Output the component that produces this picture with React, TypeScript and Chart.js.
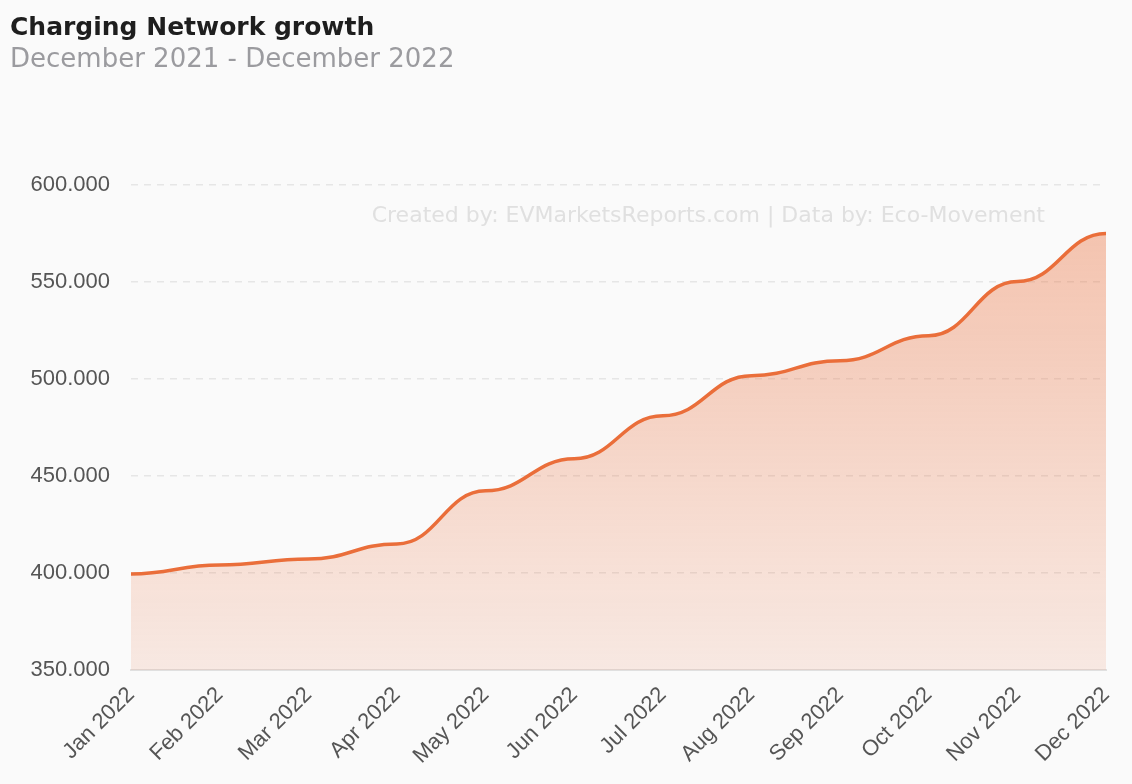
import React, { useEffect, useRef } from "react";
import { Chart, registerables } from "chart.js";

Chart.register(...registerables);

const months = ["Jan 2022", "Feb 2022", "Mar 2022", "Apr 2022", "May 2022", "Jun 2022", "Jul 2022", "Aug 2022", "Sep 2022", "Oct 2022", "Nov 2022", "Dec 2022"];
const chargePoints = [399500, 404100, 407200, 415000, 442400, 458900, 481100, 501800, 509500, 522400, 550300, 575100];
const yMin = 350000;
const yMax = 600000;
const yStep = 50000;
const titleText = "Charging Network growth";
const subtitleText = "December 2021 - December 2022";
const watermarkText = "Created by: EVMarketsReports.com | Data by: Eco-Movement";

const HEAD_FONT = "'DejaVu Sans', sans-serif";
const TICK_FONT = "'Liberation Sans', Arial, sans-serif";

function flattenControlPoints(chart: any) {
  const area = chart.chartArea;
  if (!area) return;
  chart.getSortedVisibleDatasetMetas().forEach((meta: any) => {
    const line = meta.dataset;
    const pts = meta.data;
    if (!line || !pts || !pts.length) return;
    line.updateControlPoints(area, "x");
    for (let i = 0; i < pts.length; i++) {
      const p = pts[i];
      const prev = pts[i - 1];
      const next = pts[i + 1];
      const dPrev = prev ? (p.x - prev.x) * 0.45 : 0;
      const dNext = next ? (next.x - p.x) * 0.45 : 0;
      p.cp1x = p.x - dPrev;
      p.cp1y = p.y;
      p.cp2x = p.x + dNext;
      p.cp2y = p.y;
    }
  });
}

export default function App() {
  const ref = useRef<HTMLCanvasElement | null>(null);

  useEffect(() => {
    document.body.style.margin = "0";
    const canvas = ref.current;
    if (!canvas) return;

    const smoothing = {
      id: "flatSmoothing",
      afterDatasetsUpdate(chart: any) {
        flattenControlPoints(chart);
      },
      beforeDraw(chart: any) {
        flattenControlPoints(chart);
      },
    };

    const watermark = {
      id: "watermark",
      beforeDatasetsDraw(chart: any) {
        const { ctx, chartArea } = chart;
        ctx.save();
        ctx.font = `22px ${HEAD_FONT}`;
        ctx.fillStyle = "#e0e0e0";
        ctx.textAlign = "right";
        ctx.textBaseline = "middle";
        ctx.fillText(watermarkText, chartArea.right - 61, chartArea.top + 31);
        ctx.restore();
      },
    };

    const chart = new Chart(canvas, {
      type: "line",
      data: {
        labels: months,
        datasets: [
          {
            data: chargePoints,
            borderColor: "#ea6e3a",
            borderWidth: 3.5,
            tension: 0.4,
            pointRadius: 0,
            fill: "start",
            backgroundColor: (c: any) => {
              const area = c.chart.chartArea;
              if (!area) return "rgba(234,110,58,0.3)";
              const g = c.chart.ctx.createLinearGradient(0, area.top, 0, area.bottom);
              g.addColorStop(0, "rgba(234,110,58,0.42)");
              g.addColorStop(1, "rgba(234,110,58,0.12)");
              return g;
            },
          },
        ],
      },
      options: {
        animation: false,
        events: [],
        responsive: true,
        maintainAspectRatio: false,
        layout: { padding: { left: 10, right: 26, top: 0, bottom: 11 } },
        plugins: {
          legend: { display: false },
          tooltip: { enabled: false },
          title: {
            display: true,
            text: titleText,
            align: "start",
            color: "#1e1e1e",
            font: { family: HEAD_FONT, size: 25, weight: "bold" },
            padding: { top: 13, bottom: 2 },
          },
          subtitle: {
            display: true,
            text: subtitleText,
            align: "start",
            color: "#9b9b9f",
            font: { family: HEAD_FONT, size: 26, weight: "normal" },
            padding: { top: 0, bottom: 109 },
          },
        },
        scales: {
          x: {
            offset: false,
            grid: { display: false, drawTicks: true, tickLength: 8, tickColor: "#e0e0e0", tickWidth: 2 } as any,
            border: { display: true, color: "#e0e0e0", width: 2 },
            ticks: {
              color: "#555555",
              font: { family: TICK_FONT, size: 22 },
              minRotation: 45,
              maxRotation: 45,
              padding: 4,
            },
          },
          y: {
            min: yMin,
            max: yMax,
            afterFit: (scale: any) => {
              scale.width = 121;
            },
            grid: { color: "#e6e6e6", drawTicks: false, lineWidth: 1.5 },
            border: { display: false, dash: [7, 6] },
            ticks: {
              stepSize: yStep,
              color: "#555555",
              font: { family: TICK_FONT, size: 22 },
              padding: 21,
              callback: (v: any) => Number(v).toLocaleString("de-DE"),
            },
          },
        },
      },
      plugins: [smoothing, watermark],
    });

    return () => chart.destroy();
  }, []);

  return (
    <div style={{ position: "fixed", left: 0, top: 0, width: 1132, height: 784, background: "#fafafa" }}>
      <canvas ref={ref} />
    </div>
  );
}
